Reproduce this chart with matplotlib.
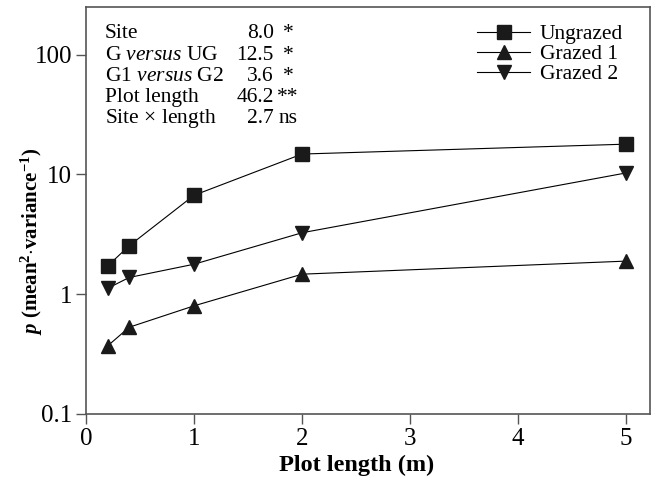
import matplotlib
matplotlib.use('Agg')
import matplotlib.pyplot as plt
from matplotlib import rcParams
from matplotlib.ticker import FixedLocator, FixedFormatter, NullLocator

# Fonts: Times-like serif
rcParams['font.family'] = 'Liberation Serif'
rcParams['mathtext.fontset'] = 'custom'
rcParams['mathtext.rm'] = 'Liberation Serif'
rcParams['mathtext.it'] = 'Liberation Serif:italic'
rcParams['mathtext.bf'] = 'Liberation Serif:bold'
rcParams['mathtext.bfit'] = 'Liberation Serif:bold:italic'

# Data
plot_length = [0.2, 0.4, 1, 2, 5]
ungrazed = [1.72, 2.54, 6.7, 14.8, 17.9]
grazed1 = [0.37, 0.53, 0.80, 1.47, 1.89]
grazed2 = [1.12, 1.38, 1.78, 3.26, 10.3]

stat_names = ['Site', r'G $\mathit{versus}$ UG', r'G1 $\mathit{versus}$ G2',
              'Plot length', r'Site $\times$ length']
stat_values = ['8.0', '12.5', '3.6', '46.2', '2.7']
stat_signif = ['*', '*', '*', '**', 'ns']

y_ticks = [0.1, 1, 10, 100]
y_ticklabels = ['0.1', '1', '10', '100']
x_ticks = [0, 1, 2, 3, 4, 5]

spine_col = '#555555'

fig = plt.figure(figsize=(6.53, 4.79), dpi=100)
ax = fig.add_axes([0.1317, 0.1357, 0.8637, 0.8497])

mk = dict(color='black', lw=0.8, markersize=10, mfc='#1a1a1a', mec='#1a1a1a')
ax.plot(plot_length, ungrazed, marker='s', label='Ungrazed', **mk)
ax.plot(plot_length, grazed1, marker='^', label='Grazed 1', **mk)
ax.plot(plot_length, grazed2, marker='v', label='Grazed 2', **mk)

ax.set_yscale('log')
ax.set_ylim(0.1, 250)
ax.set_xlim(0, 5.22)
ax.yaxis.set_major_locator(FixedLocator(y_ticks))
ax.yaxis.set_major_formatter(FixedFormatter(y_ticklabels))
ax.yaxis.set_minor_locator(NullLocator())
ax.set_xticks(x_ticks)

for s in ax.spines.values():
    s.set_color(spine_col)
    s.set_linewidth(1.2)
ax.tick_params(direction='out', length=7, width=1, color=spine_col,
               labelsize=18, pad=3)

ax.set_xlabel('Plot length (m)', fontsize=17.5, fontweight='bold')
ax.xaxis.set_label_coords(0.48, -0.1)
ax.set_ylabel(r'$\mathbfit{p}$ (mean$^{\mathbf{2}}$$\mathbf{\cdot}$variance$^{\mathbf{-1}}$)',
              fontsize=15, fontweight='bold')
ax.yaxis.set_label_coords(-0.072, 0.425)

# ANOVA summary in upper left
y0 = 0.934
dy = 0.0522
for i in range(len(stat_names)):
    y = y0 - i * dy
    ax.text(0.0337, y, stat_names[i], transform=ax.transAxes, fontsize=15.5, va='center', ha='left')
    ax.text(0.333, y, stat_values[i], transform=ax.transAxes, fontsize=15.5, va='center', ha='right')
    ax.text(0.358, y, stat_signif[i], transform=ax.transAxes, fontsize=15.5, va='center', ha='center')

ax.legend(loc='upper right', bbox_to_anchor=(0.975, 0.99), frameon=False, fontsize=15.5,
          handlelength=2.5, handletextpad=0.43, labelspacing=0.0, borderpad=0.4,
          borderaxespad=0.2)

plt.savefig('out.png', dpi=100)
